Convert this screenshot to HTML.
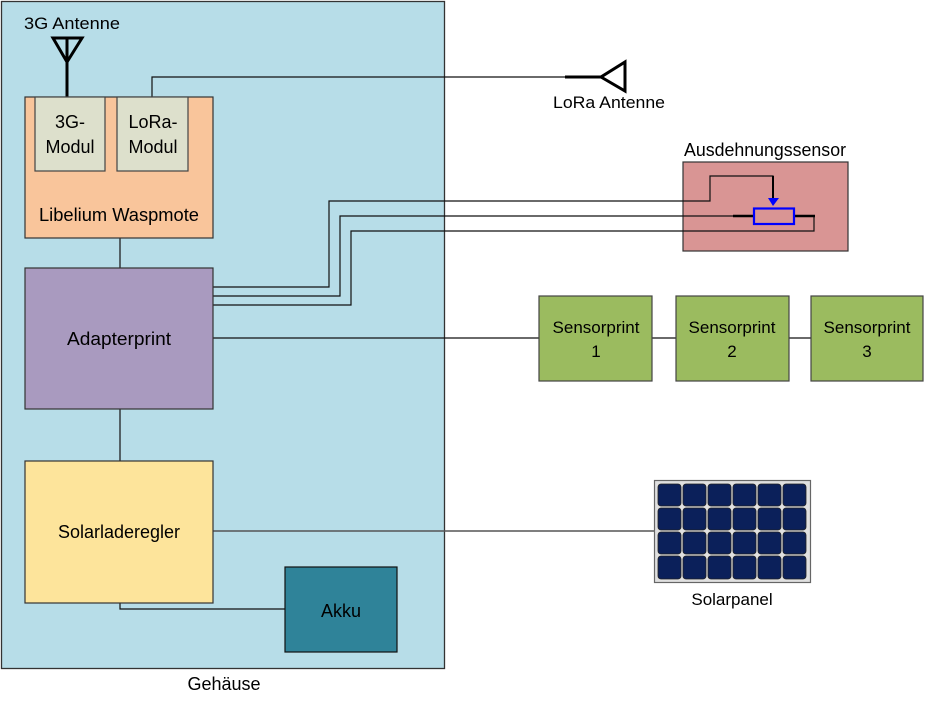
<!DOCTYPE html>
<html><head><meta charset="utf-8"><style>
html,body{margin:0;padding:0;background:#fff;}
svg{display:block;font-family:"Liberation Sans",sans-serif;}
</style></head><body>
<svg width="930" height="706" viewBox="0 0 930 706" xmlns="http://www.w3.org/2000/svg">
<rect x="1.5" y="1.5" width="443" height="667" fill="#b7dde8" stroke="#333" stroke-width="1.3"/>
<rect x="683" y="162" width="165" height="89" fill="#d99594" stroke="#333" stroke-width="1.2"/>
<!-- wires -->
<g fill="none" stroke="#111" stroke-width="1.2">
<polyline points="152,97 152,77 565,77"/>
<line x1="120" y1="238" x2="120" y2="268"/>
<line x1="120" y1="409" x2="120" y2="461"/>
<polyline points="120,603 120,609 285,609"/>
<polyline points="213,287 329,287 329,201 710,201 710,176 773,176 773,200"/>
<polyline points="213,296 340,296 340,216 733,216"/>
<polyline points="213,305 351,305 351,231 814,231 814,216 794,216"/>
<line x1="213" y1="338" x2="811" y2="338"/>
</g>
<line x1="213" y1="531" x2="655" y2="531" stroke="#555" stroke-width="1.5"/>
<!-- 3G antenna -->
<g stroke="#000" stroke-width="3" fill="none">
<line x1="67" y1="38" x2="67" y2="97"/>
<polygon points="53,38 82,38 67,62"/>
</g>
<!-- LoRa antenna -->
<g stroke="#000" stroke-width="3" fill="none">
<line x1="565" y1="77" x2="601" y2="77"/>
<polygon points="625,62 625,91 601,77"/>
</g>
<text x="72" y="29" font-size="17" text-anchor="middle" textLength="96" lengthAdjust="spacingAndGlyphs">3G Antenne</text>
<text x="609" y="108" font-size="17" text-anchor="middle" textLength="112" lengthAdjust="spacingAndGlyphs">LoRa Antenne</text>
<!-- Waspmote -->
<rect x="25" y="97" width="188" height="141" fill="#f9c59b" stroke="#333" stroke-width="1.2"/>
<rect x="35" y="97" width="70" height="74" fill="#dde0cc" stroke="#444" stroke-width="1.2"/>
<rect x="117" y="97" width="71" height="74" fill="#dde0cc" stroke="#444" stroke-width="1.2"/>
<g font-size="18" text-anchor="middle">
<text x="70" y="128">3G-</text>
<text x="70" y="153">Modul</text>
<text x="153" y="128">LoRa-</text>
<text x="153" y="153">Modul</text>
<text x="119" y="221" textLength="160" lengthAdjust="spacingAndGlyphs">Libelium Waspmote</text>
<text x="119" y="345" textLength="104" lengthAdjust="spacingAndGlyphs">Adapterprint</text>
<text x="119" y="538" textLength="122" lengthAdjust="spacingAndGlyphs">Solarladeregler</text>
<text x="341" y="617">Akku</text>
<text x="224" y="690">Gehäuse</text>
<text x="765" y="156" textLength="162" lengthAdjust="spacingAndGlyphs">Ausdehnungssensor</text>
</g>
<!-- Adapter -->
<rect x="25" y="268" width="188" height="141" fill="#a99abf" stroke="#333" stroke-width="1.2"/>
<text x="119" y="345" font-size="18" text-anchor="middle" textLength="104" lengthAdjust="spacingAndGlyphs">Adapterprint</text>
<!-- Solar -->
<rect x="25" y="461" width="188" height="142" fill="#fde49b" stroke="#333" stroke-width="1.2"/>
<text x="119" y="538" font-size="18" text-anchor="middle" textLength="122" lengthAdjust="spacingAndGlyphs">Solarladeregler</text>
<rect x="285" y="567" width="112" height="85" fill="#2f8399" stroke="#111" stroke-width="1.2"/>
<text x="341" y="617" font-size="18" text-anchor="middle">Akku</text>
<!-- Sensor internals -->
<line x1="733" y1="216" x2="753" y2="216" stroke="#000" stroke-width="2.5"/>
<line x1="794" y1="216" x2="815" y2="216" stroke="#000" stroke-width="2.5"/>
<line x1="773" y1="176" x2="773" y2="200" stroke="#000" stroke-width="2"/>
<polygon points="768,198 779,198 773,206" fill="#00f"/>
<rect x="754" y="208.5" width="40" height="15.5" fill="none" stroke="#00f" stroke-width="2.2"/>
<!-- Sensorprints -->
<g fill="#9bbb5f" stroke="#444" stroke-width="1.2">
<rect x="539" y="296" width="113" height="85"/>
<rect x="676" y="296" width="113" height="85"/>
<rect x="811" y="296" width="112" height="85"/>
</g>
<g font-size="17" text-anchor="middle">
<text x="596" y="333">Sensorprint</text><text x="596" y="357">1</text>
<text x="732" y="333">Sensorprint</text><text x="732" y="357">2</text>
<text x="867" y="333">Sensorprint</text><text x="867" y="357">3</text>
</g>
<!-- Solar panel -->
<rect x="654.5" y="480.5" width="156" height="102" fill="#e0e0e0" stroke="#666" stroke-width="1.2"/>
<g fill="#0b205a" stroke="#222" stroke-width="0.8">
<rect x="658" y="484" width="23" height="22" rx="3"/><rect x="683" y="484" width="23" height="22" rx="3"/><rect x="708" y="484" width="23" height="22" rx="3"/><rect x="733" y="484" width="23" height="22" rx="3"/><rect x="758" y="484" width="23" height="22" rx="3"/><rect x="783" y="484" width="23" height="22" rx="3"/>
<rect x="658" y="508" width="23" height="22" rx="3"/><rect x="683" y="508" width="23" height="22" rx="3"/><rect x="708" y="508" width="23" height="22" rx="3"/><rect x="733" y="508" width="23" height="22" rx="3"/><rect x="758" y="508" width="23" height="22" rx="3"/><rect x="783" y="508" width="23" height="22" rx="3"/>
<rect x="658" y="532" width="23" height="22" rx="3"/><rect x="683" y="532" width="23" height="22" rx="3"/><rect x="708" y="532" width="23" height="22" rx="3"/><rect x="733" y="532" width="23" height="22" rx="3"/><rect x="758" y="532" width="23" height="22" rx="3"/><rect x="783" y="532" width="23" height="22" rx="3"/>
<rect x="658" y="556" width="23" height="23" rx="3"/><rect x="683" y="556" width="23" height="23" rx="3"/><rect x="708" y="556" width="23" height="23" rx="3"/><rect x="733" y="556" width="23" height="23" rx="3"/><rect x="758" y="556" width="23" height="23" rx="3"/><rect x="783" y="556" width="23" height="23" rx="3"/>
</g>
<text x="732" y="605" font-size="17" text-anchor="middle">Solarpanel</text>
</svg>
</body></html>
